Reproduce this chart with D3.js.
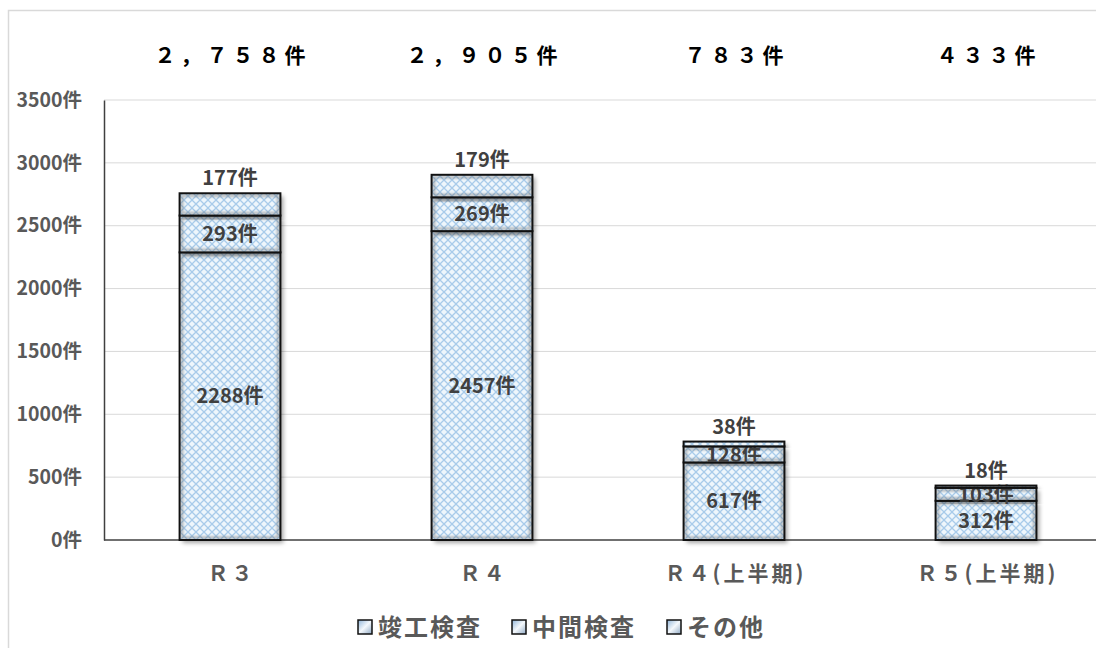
<!DOCTYPE html>
<html>
<head>
<meta charset="utf-8">
<script src="https://cdn.jsdelivr.net/npm/d3@7/dist/d3.min.js"></script>
<style>
  body { margin: 0; background: #fff; }
  text { font-family: "Noto Sans CJK JP", "Noto Sans", sans-serif; font-weight: bold; }
</style>
</head>
<body>
<script>
// chart data
var categories = ["Ｒ３", "Ｒ４", "Ｒ４(上半期)", "Ｒ５(上半期)"];
var seriesNames = ["竣工検査", "中間検査", "その他"];
var kanko = [2288, 2457, 617, 312];
var chukan = [293, 269, 128, 103];
var sonota = [177, 179, 38, 18];
var totalLabels = ["２，７５８件", "２，９０５件", "７８３件", "４３３件"];
var yTicks = [0, 500, 1000, 1500, 2000, 2500, 3000, 3500];

var W = 1096, H = 648;
var margin = { top: 100, left: 104, bottom: 108, right: -16 };

var svg = d3.select("body").append("svg")
    .attr("width", W)
    .attr("height", H);

var defs = svg.append("defs");

// lattice fill used by every bar segment
var pat = defs.append("pattern")
    .attr("id", "lattice")
    .attr("patternUnits", "userSpaceOnUse")
    .attr("width", 8).attr("height", 8);
pat.append("rect").attr("width", 8).attr("height", 8).attr("fill", "#eef6fc");
pat.append("path").attr("d", "M0,0 L8,8 M8,0 L0,8")
    .attr("stroke", "#a8cbea").attr("stroke-width", 1.3);

var shadow = defs.append("filter").attr("id", "shadow")
    .attr("x", "-20%").attr("y", "-20%").attr("width", "140%").attr("height", "140%");
shadow.append("feDropShadow").attr("dx", 3).attr("dy", 3).attr("stdDeviation", 2)
    .attr("flood-color", "#000").attr("flood-opacity", 0.35);

var soft = defs.append("filter").attr("id", "soft");
soft.append("feGaussianBlur").attr("stdDeviation", 1.2);

// legend swatch gradient
var sw = defs.append("linearGradient")
    .attr("id", "swatch").attr("x1", 0).attr("y1", 0).attr("x2", 1).attr("y2", 1);
sw.append("stop").attr("offset", 0).attr("stop-color", "#8fb4d8");
sw.append("stop").attr("offset", 0.5).attr("stop-color", "#f4f8fc");
sw.append("stop").attr("offset", 1).attr("stop-color", "#8fa9c4");

// outer chart border
svg.append("rect")
    .attr("x", 8.5).attr("y", 10.5)
    .attr("width", W).attr("height", H)
    .attr("fill", "none").attr("stroke", "#d9d9d9").attr("stroke-width", 1.5);

var x = d3.scaleBand()
    .domain(categories)
    .range([margin.left, W - margin.right])
    .paddingInner(0.6)
    .paddingOuter(0.3);

var y = d3.scaleLinear()
    .domain([0, 3500])
    .range([H - margin.bottom, margin.top]);

// gridlines
svg.append("g").selectAll("line")
    .data(yTicks.slice(1))
    .enter().append("line")
    .attr("x1", margin.left).attr("x2", W)
    .attr("y1", function (d) { return y(d); })
    .attr("y2", function (d) { return y(d); })
    .attr("stroke", "#d9d9d9").attr("stroke-width", 1);

// y axis
var yAxis = d3.axisLeft(y)
    .tickValues(yTicks)
    .tickSize(0)
    .tickPadding(22)
    .tickFormat(function (d) { return d + "件"; });
var gy = svg.append("g")
    .attr("transform", "translate(" + margin.left + ",0)")
    .call(yAxis);
gy.attr("font-size", null).attr("font-family", null);
gy.select(".domain").attr("stroke", "#404040").attr("stroke-width", 1.5);
gy.selectAll("text")
    .attr("fill", "#595959")
    .style("font-size", "19.5px");

// x axis
var xAxis = d3.axisBottom(x).tickSize(0).tickPadding(26);
var gx = svg.append("g")
    .attr("transform", "translate(0," + y(0) + ")")
    .call(xAxis);
gx.attr("font-size", null).attr("font-family", null);
gx.select(".domain").attr("d", "M" + margin.left + ",0H" + W)
    .attr("stroke", "#404040").attr("stroke-width", 1.5);
gx.selectAll("text")
    .attr("fill", "#595959")
    .attr("dx", "1.5px")
    .style("font-size", "21px")
    .style("letter-spacing", "3px");

// stack
var rows = categories.map(function (c, i) {
    return { cat: c, "竣工検査": kanko[i], "中間検査": chukan[i], "その他": sonota[i] };
});
var stacked = d3.stack().keys(seriesNames)(rows);

var layer = svg.append("g").selectAll("g")
    .data(stacked)
    .enter().append("g");

var seg = layer.selectAll("g")
    .data(function (s) { return s.map(function (d) { d.key = s.key; return d; }); })
    .enter().append("g");

seg.append("rect")
    .attr("x", function (d) { return x(d.data.cat); })
    .attr("y", function (d) { return y(d[1]); })
    .attr("width", x.bandwidth())
    .attr("height", function (d) { return y(d[0]) - y(d[1]); })
    .attr("fill", "url(#lattice)")
    .attr("filter", "url(#shadow)");
// soft inner bevel
seg.append("rect")
    .attr("x", function (d) { return x(d.data.cat) + 2.5; })
    .attr("y", function (d) { return y(d[1]) + 2.5; })
    .attr("width", x.bandwidth() - 5)
    .attr("height", function (d) { return Math.max(0, y(d[0]) - y(d[1]) - 5); })
    .attr("fill", "none")
    .attr("stroke", "#666")
    .attr("stroke-opacity", 0.45)
    .attr("stroke-width", 2.5)
    .attr("filter", "url(#soft)");
seg.append("rect")
    .attr("x", function (d) { return x(d.data.cat); })
    .attr("y", function (d) { return y(d[1]); })
    .attr("width", x.bandwidth())
    .attr("height", function (d) { return y(d[0]) - y(d[1]); })
    .attr("fill", "none")
    .attr("stroke", "#111")
    .attr("stroke-width", 2);

// segment labels
seg.append("text")
    .attr("x", function (d) { return x(d.data.cat) + x.bandwidth() / 2; })
    .attr("y", function (d) {
        if (d.key === "その他") return y(d[1]) - 15;
        return (y(d[0]) + y(d[1])) / 2;
    })
    .attr("dy", "0.36em")
    .attr("text-anchor", "middle")
    .attr("fill", "#404040")
    .style("font-size", "20px")
    .text(function (d) { return (d[1] - d[0]) + "件"; });

// totals across the top
svg.append("g").selectAll("text")
    .data(categories)
    .enter().append("text")
    .attr("x", function (d) { return x(d) + x.bandwidth() / 2 + 2.5; })
    .attr("y", 55)
    .attr("dy", "0.36em")
    .attr("text-anchor", "middle")
    .attr("fill", "#000")
    .style("font-size", "21px")
    .style("letter-spacing", "5px")
    .text(function (d, i) { return totalLabels[i]; });

// legend
var legendX = [358, 512, 667];
var lg = svg.append("g").selectAll("g")
    .data(seriesNames)
    .enter().append("g")
    .attr("transform", function (d, i) { return "translate(" + legendX[i] + ",627)"; });
lg.append("rect")
    .attr("x", 0).attr("y", -7)
    .attr("width", 14).attr("height", 14)
    .attr("fill", "url(#swatch)")
    .attr("stroke", "#111").attr("stroke-width", 1.5);
lg.append("text")
    .attr("x", 20)
    .attr("dy", "0.36em")
    .attr("fill", "#595959")
    .style("font-size", "24px")
    .style("letter-spacing", "2px")
    .text(function (d) { return d; });
</script>
</body>
</html>
